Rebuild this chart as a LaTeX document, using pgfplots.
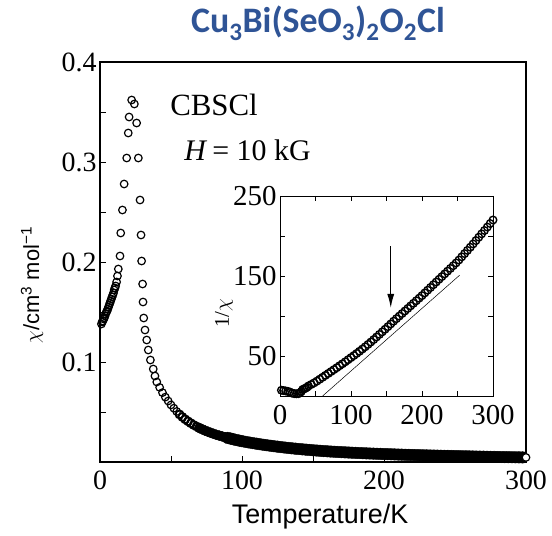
\documentclass[border=0pt]{standalone}
\usepackage{fontspec}
\setmainfont{Liberation Serif}
\setsansfont{Liberation Sans}
\newfontfamily\calibri{Carlito}
\usepackage{pgfplots}
\pgfplotsset{compat=1.18}
\usetikzlibrary{arrows.meta}
\definecolor{titleblue}{RGB}{47,84,150}

% chi(T) of CBSCl, H = 10 kG
\pgfplotstableread{
T chi
1.0 0.138
1.5 0.140
2.0 0.141
2.5 0.143
3.0 0.144
3.5 0.146
4.0 0.148
4.5 0.150
5.0 0.151
5.5 0.153
6.0 0.155
6.5 0.157
7.0 0.159
7.5 0.161
8.0 0.163
8.5 0.165
9.0 0.167
9.5 0.169
10.0 0.172
10.5 0.174
11.0 0.176
11.7 0.180
12.3 0.186
12.9 0.193
14.1 0.206
14.6 0.229
15.8 0.252
17.0 0.278
18.8 0.304
19.9 0.329
20.5 0.345
22.3 0.362
24.2 0.358
25.8 0.339
27.0 0.304
28.2 0.262
28.9 0.227
29.3 0.201
30.0 0.178
30.3 0.160
30.8 0.144
31.7 0.132
32.9 0.122
34.0 0.112
35.5 0.102
37.5 0.093
38.7 0.086
40 0.0800
42 0.0746
44 0.0694
46 0.0649
48 0.0610
50 0.0571
52 0.0538
54 0.0505
56 0.0476
58 0.0450
60 0.0427
62 0.0407
64 0.0388
66 0.0370
68 0.0355
70 0.0340
72 0.0327
74 0.0314
76 0.0303
78 0.0292
80 0.0282
82 0.0272
84 0.0264
86 0.0256
88 0.0248
90 0.0241
92 0.0234
94 0.0227
96 0.0220
98 0.0214
100 0.02083
102.5 0.02015
105 0.01951
107.5 0.01891
110 0.01835
112.5 0.01778
115 0.01724
117.5 0.01674
120 0.01626
122.5 0.01578
125 0.01533
127.5 0.01490
130 0.01449
132.5 0.01408
135 0.01370
137.5 0.01333
140 0.01299
142.5 0.01266
145 0.01235
147.5 0.01205
150 0.01176
152.5 0.01148
155 0.01120
157.5 0.01094
160 0.01070
162.5 0.01047
165 0.01026
167.5 0.01005
170 0.00985
172.5 0.00966
175 0.00948
177.5 0.00930
180 0.00913
182.5 0.00897
185 0.00881
187.5 0.00866
190 0.00851
192.5 0.00837
195 0.00823
197.5 0.00810
200 0.00797
202.5 0.00784
205 0.00771
207.5 0.00758
210 0.00746
212.5 0.00735
215 0.00723
217.5 0.00712
220 0.00702
222.5 0.00691
225 0.00681
227.5 0.00672
230 0.00662
232.5 0.00653
235 0.00644
237.5 0.00635
240 0.00627
242.5 0.00619
245 0.00611
247.5 0.00603
250 0.00595
252.5 0.00587
255 0.00578
257.5 0.00570
260 0.00562
262.5 0.00554
265 0.00546
267.5 0.00539
270 0.00532
272.5 0.00525
275 0.00517
277.5 0.00511
280 0.00504
282.5 0.00497
285 0.00491
287.5 0.00485
290 0.00478
292.5 0.00472
295 0.00466
297.5 0.00460
}\chidata

% 1/chi(T) for the inset
\pgfplotstableread{
T inv
2 7.2
5 6.8
8 6.3
11 5.8
14 4.9
17 3.6
20 3.0
23 2.8
26 3.0
28 3.8
30 5.6
32 8.2
34 8.9
36 9.8
38 10.9
40 12.5
44 14.4
48 16.4
52 18.6
56 21.0
60 23.4
64 25.8
68 28.2
72 30.6
76 33.0
80 35.4
84 37.9
88 40.3
92 42.8
96 45.4
100 48.0
104 50.6
108 53.2
112 55.9
116 58.7
120 61.5
124 64.5
128 67.5
132 70.6
136 73.8
140 77.0
144 80.2
148 83.4
152 86.7
156 90.1
160 93.5
164 96.7
168 99.9
172 103.1
176 106.3
180 109.5
184 112.7
188 115.9
192 119.1
196 122.3
200 125.5
204 128.9
208 132.3
212 135.7
216 139.1
220 142.5
224 145.9
228 149.3
232 152.7
236 156.1
240 159.5
244 162.9
248 166.3
252 170.0
256 174.0
260 178.0
264 182.0
268 186.0
272 190.1
276 194.3
280 198.5
284 202.7
288 206.9
292 211.2
296 215.6
300 220.0
}\invdata

\begin{document}
\begin{tikzpicture}
\useasboundingbox (-100bp,-74bp) rectangle (452bp,462bp);

\begin{axis}[
  name=main,
  at={(0bp,0bp)}, anchor=south west,
  scale only axis,
  width=426bp, height=400bp,
  xmin=0, xmax=300, ymin=0, ymax=0.4,
  xtick={0,100,200,300}, xticklabels={0,100,200,300},
  minor xtick={50,150,250},
  ytick={0.1,0.2,0.3,0.4}, yticklabels={0.1,0.2,0.3,0.4},
  minor ytick={0.05,0.15,0.25,0.35},
  xtick pos=bottom, ytick pos=left,
  tick align=inside,
  major tick length=6bp, minor tick length=6bp,
  tick style={black, line width=0.8pt},
  axis line style={line width=1.3pt},
  ticklabel style={font=\fontsize{28}{30}\selectfont},
  xticklabel style={yshift=-5bp},
  clip=false,
  xlabel={\sffamily\fontsize{27}{30}\selectfont Temperature/K},
  xlabel style={at={(axis description cs:0.5,0)}, anchor=center, xshift=7bp, yshift=-55bp},
  ylabel={\sffamily\fontsize{22}{24}\selectfont $\chi$/cm\textsuperscript{3} mol\textsuperscript{\textminus1}},
  ylabel style={at={(axis description cs:0,0.4425)}, anchor=center, yshift=68bp},
]
% low-T part: single circles
\addplot[black, only marks, mark=o, mark size=3.8pt, line width=1.2pt,
  restrict x to domain=0:56] table[x=T, y=chi] {\chidata};
\addplot[black, only marks, mark=o, mark size=4.0pt, line width=1.8pt,
  restrict x to domain=56:70] table[x=T, y=chi] {\chidata};
% high-T part: the dense run merges into a solid black band
\addplot[black, only marks, mark=*, mark size=5.0pt,
  restrict x to domain=70:90] table[x=T, y=chi] {\chidata};
\addplot[black, only marks, mark=*, mark size=5.8pt,
  restrict x to domain=90:298] table[x=T, y=chi] {\chidata};
% last point, an open circle at the frame
\addplot[black, only marks, mark=*, mark size=3.8pt, line width=1.2pt, mark options={fill=white}]
  coordinates {(300,0.00455)};
\node[anchor=west, font=\fontsize{31}{33}\selectfont] at (axis cs:47,0.357) {CBSCl};
\node[anchor=west, font=\fontsize{30}{32}\selectfont] at (axis cs:57,0.312) {\textit{H}\,= 10 kG};
\end{axis}

\begin{axis}[
  name=inset,
  at={(180bp,66bp)}, anchor=south west,
  scale only axis,
  width=213bp, height=200bp,
  xmin=0, xmax=300, ymin=0, ymax=250,
  xtick={0,100,200,300}, xticklabels={0,100,200,300},
  minor xtick={50,150,250},
  ytick={50,150,250}, yticklabels={50,150,250},
  minor ytick={100,200},
  tick align=inside,
  major tick length=5bp, minor tick length=5bp,
  tick style={black, line width=0.7pt},
  axis line style={line width=0.9pt},
  ticklabel style={font=\fontsize{29}{31}\selectfont},
  xticklabel style={yshift=-6bp},
  clip=false,
  ylabel={\fontsize{21}{23}\selectfont 1/$\chi$},
  ylabel style={at={(axis description cs:0,0.415)}, anchor=center, yshift=56bp},
]
\addplot[black, only marks, mark=o, mark size=3.8pt, line width=1.4pt] table[x=T, y=inv] {\invdata};
\addplot[black, line width=0.5pt] coordinates {(60,0) (253,151)};
\draw[-{Latex[length=14bp,width=7bp]}, line width=1.3pt] (axis cs:156,187) -- (axis cs:156,110);
\end{axis}

\node[anchor=base, text=titleblue, font=\calibri\bfseries\fontsize{36}{38}\selectfont] at (218bp,429bp)
  {Cu\textsubscript{3}Bi(SeO\textsubscript{3})\textsubscript{2}O\textsubscript{2}Cl};
\end{tikzpicture}
\end{document}
